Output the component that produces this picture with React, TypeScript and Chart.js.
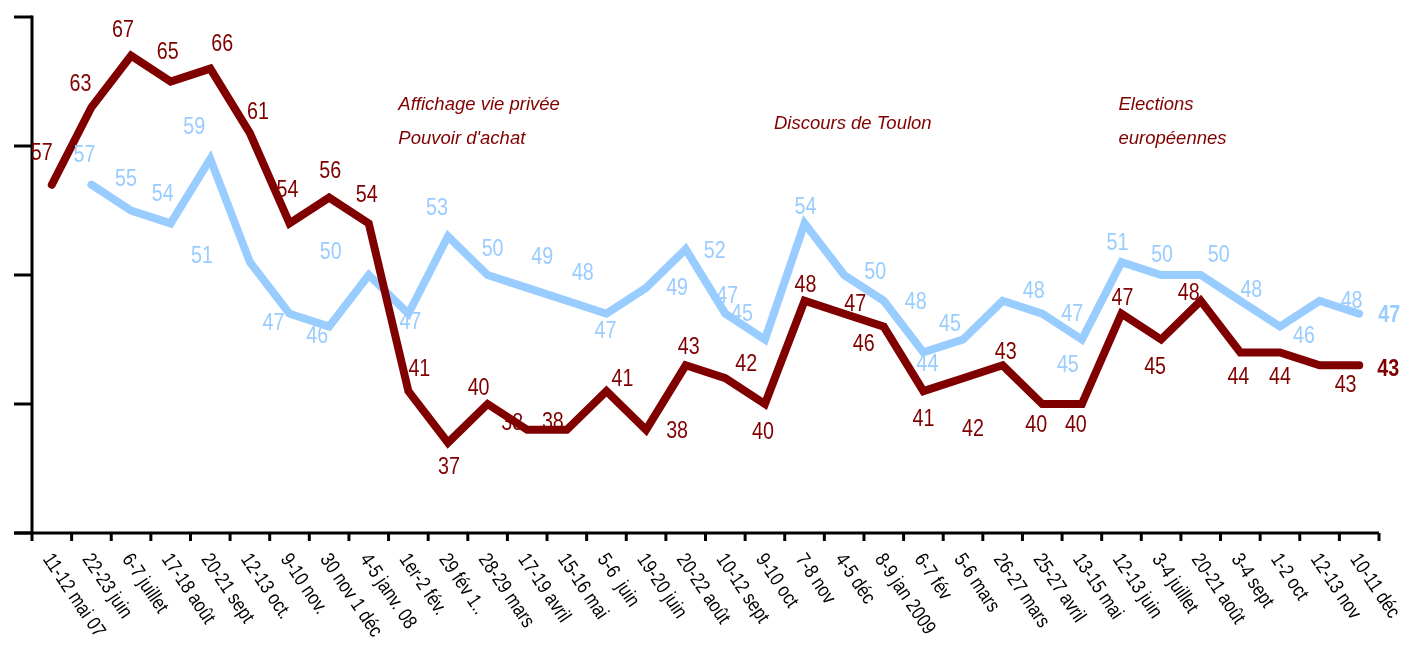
import React, { useEffect, useRef } from "react";
import { Chart, registerables } from "chart.js";

Chart.register(...registerables);

const CATEGORIES = [
  "11-12 mai 07", "22-23 juin", "6-7 juillet", "17-18 août", "20-21 sept", "12-13 oct.",
  "9-10 nov.", "30 nov 1 déc", "4-5 janv. 08", "1er-2 fév.", "29 fév 1..", "28-29 mars",
  "17-19 avril", "15-16 mai", "5-6  juin", "19-20 juin", "20-22 août", "10-12 sept",
  "9-10 oct", "7-8 nov", "4-5 déc", "8-9 jan 2009", "6-7 fév", "5-6 mars",
  "26-27 mars", "25-27 avril", "13-15 mai", "12-13 juin", "3-4 juillet", "20-21 août",
  "3-4 sept", "1-2 oct", "12-13 nov", "10-11 déc",
];

const SERIES_DARK = [
  57, 63, 67, 65, 66, 61, 54, 56, 54, 41, 37, 40, 38, 38, 41, 38, 43, 42,
  40, 48, 47, 46, 41, 42, 43, 40, 40, 47, 45, 48, 44, 44, 43, 43,
];

const SERIES_LIGHT = [
  null, 57, 55, 54, 59, 51, 47, 46, 50, 47, 53, 50, 49, 48, 47, 49, 52, 47,
  45, 54, 50, 48, 44, 45, 48, 47, 45, 51, 50, 50, 48, 46, 48, 47,
];

const Y_MIN = 30;
const Y_MAX = 70;
const Y_STEP = 10;

// Label placement (offsets in px from each point)
const DARK_LABEL_DX = [-10, -11, -8, -3, 12, 8, -2, 1, -2, 11, 1, -9, -15, -14, 16, 31, 3, 21, -2, 1, 11, -20, 0, 10, 3, -6, -6, 1, -6, -12, -2, 0, 26, 29];
const DARK_LABEL_DY = [-33, -25, -27, -31, -26, -23, -35, -28, -30, -24, 23, -18, -8, -9, -14, 0, -20, -16, 26, -17, -11, 16, 26, 49, -15, 19, 19, -17, 26, -9, 23, 23, 18, 2];
const LIGHT_LABEL_DX = [0, -7, -5, -8, -16, -48, -16, -12, -38, 2, -11, 5, 15, 16, -1, 31, 29, 2, -23, 1, 31, 32, 4, -13, 31, 30, -14, -4, 1, 18, 11, 24, 32, 30];
const LIGHT_LABEL_DY = [0, -31, -33, -31, -33, -8, 8, 8, -25, 7, -30, -28, -32, -29, 16, -1, 0, -19, -27, -18, -5, 0, 10, -17, -11, -1, 24, -21, -22, -22, -12, 8, -1, 0];

const ANNOTATIONS = [
  { lines: ["Affichage vie privée", "Pouvoir d'achat"], cat: 9, dx: -10, values: [63.33, 60.7] },
  { lines: ["Discours de Toulon"], cat: 18, dx: 9, values: [61.86] },
  { lines: ["Elections", "européennes"], cat: 27, dx: -3, values: [63.33, 60.7] },
];

const DARK = "#800000";
const LIGHT = "#99CCFF";

function drawNumber(ctx: CanvasRenderingContext2D, text: string, x: number, y: number, color: string, bold: boolean) {
  const size = 24;
  ctx.save();
  ctx.translate(x, y + size * 0.716 / 2);
  ctx.scale(0.82, 1);
  ctx.font = `${bold ? "bold " : ""}${size}px "Liberation Sans", Arial, sans-serif`;
  ctx.fillStyle = color;
  ctx.textAlign = "center";
  ctx.textBaseline = "alphabetic";
  ctx.fillText(text, 0, 0);
  ctx.restore();
}

const customPlugin = {
  id: "customDraw",
  beforeDatasetsDraw(chart: any) {
    const ctx: CanvasRenderingContext2D = chart.ctx;
    const xs = chart.scales.x;
    const ys = chart.scales.y;
    const area = chart.chartArea;
    ctx.save();
    ctx.strokeStyle = "#000";
    ctx.lineWidth = 3;
    ctx.lineCap = "butt";
    // y axis
    ctx.beginPath();
    ctx.moveTo(area.left, area.top - 1.5);
    ctx.lineTo(area.left, area.bottom + 1.5);
    ctx.stroke();
    // y ticks
    for (let v = Y_MIN; v <= Y_MAX; v += Y_STEP) {
      const y = ys.getPixelForValue(v);
      ctx.beginPath();
      ctx.moveTo(area.left - 18, y);
      ctx.lineTo(area.left, y);
      ctx.stroke();
    }
    // x axis
    ctx.beginPath();
    ctx.moveTo(area.left - 18, area.bottom);
    ctx.lineTo(area.right, area.bottom);
    ctx.stroke();
    // x ticks at category boundaries
    const n = CATEGORIES.length;
    const w = (area.right - area.left) / n;
    for (let k = 0; k <= n; k++) {
      const x = area.left + k * w;
      ctx.beginPath();
      ctx.moveTo(x, area.bottom);
      ctx.lineTo(x, area.bottom + 8);
      ctx.stroke();
    }
    // x labels (rotated clockwise)
    ctx.fillStyle = "#000";
    ctx.textAlign = "left";
    ctx.textBaseline = "middle";
    const angle = (56 * Math.PI) / 180;
    CATEGORIES.forEach((label, i) => {
      const cx = xs.getPixelForValue(i);
      ctx.save();
      ctx.translate(cx - 5, area.bottom + 23);
      ctx.rotate(angle);
      ctx.scale(0.95, 1.15);
      ctx.font = `17.5px "Liberation Sans", Arial, sans-serif`;
      ctx.fillText(label, 0, 0);
      ctx.restore();
    });
    // annotations
    ctx.fillStyle = DARK;
    ctx.font = `italic 18.5px "Liberation Sans", Arial, sans-serif`;
    ctx.textAlign = "left";
    ctx.textBaseline = "alphabetic";
    ANNOTATIONS.forEach((a) => {
      const x = xs.getPixelForValue(a.cat) + a.dx;
      a.lines.forEach((line, j) => {
        const y = ys.getPixelForValue(a.values[j]);
        ctx.fillText(line, x, y + 18.5 * 0.716 / 2);
      });
    });
    ctx.restore();
  },
  afterDatasetsDraw(chart: any) {
    const ctx: CanvasRenderingContext2D = chart.ctx;
    const n = CATEGORIES.length;
    const lightMeta = chart.getDatasetMeta(1);
    SERIES_LIGHT.forEach((v, i) => {
      if (v == null) return;
      const p = lightMeta.data[i];
      drawNumber(ctx, String(v), p.x + LIGHT_LABEL_DX[i], p.y + LIGHT_LABEL_DY[i], LIGHT, i === n - 1);
    });
    const darkMeta = chart.getDatasetMeta(0);
    SERIES_DARK.forEach((v, i) => {
      const p = darkMeta.data[i];
      drawNumber(ctx, String(v), p.x + DARK_LABEL_DX[i], p.y + DARK_LABEL_DY[i], DARK, i === n - 1);
    });
  },
};

export default function App() {
  const canvasRef = useRef<HTMLCanvasElement | null>(null);

  useEffect(() => {
    if (!canvasRef.current) return;
    const chart = new Chart(canvasRef.current, {
      type: "line",
      data: {
        labels: CATEGORIES,
        datasets: [
          {
            data: SERIES_DARK,
            borderColor: DARK,
            backgroundColor: DARK,
            borderWidth: 8,
            pointRadius: 0,
            tension: 0,
            borderJoinStyle: "miter",
            borderCapStyle: "round",
            clip: false,
          } as any,
          {
            data: SERIES_LIGHT,
            borderColor: LIGHT,
            backgroundColor: LIGHT,
            borderWidth: 8,
            pointRadius: 0,
            tension: 0,
            borderJoinStyle: "miter",
            borderCapStyle: "round",
            spanGaps: false,
            clip: false,
          } as any,
        ],
      },
      options: {
        animation: false,
        responsive: false,
        maintainAspectRatio: false,
        layout: { padding: { left: 32, right: 26, top: 17, bottom: 112 } },
        plugins: { legend: { display: false }, tooltip: { enabled: false } },
        scales: {
          x: { type: "category", display: false, offset: true },
          y: { display: false, min: Y_MIN, max: Y_MAX },
        },
      },
      plugins: [customPlugin],
    });
    return () => chart.destroy();
  }, []);

  return (
    <div style={{ position: "fixed", left: 0, top: 0, width: 1405, height: 645, background: "#fff" }}>
      <canvas ref={canvasRef} width={1405} height={645} style={{ display: "block" }} />
    </div>
  );
}
